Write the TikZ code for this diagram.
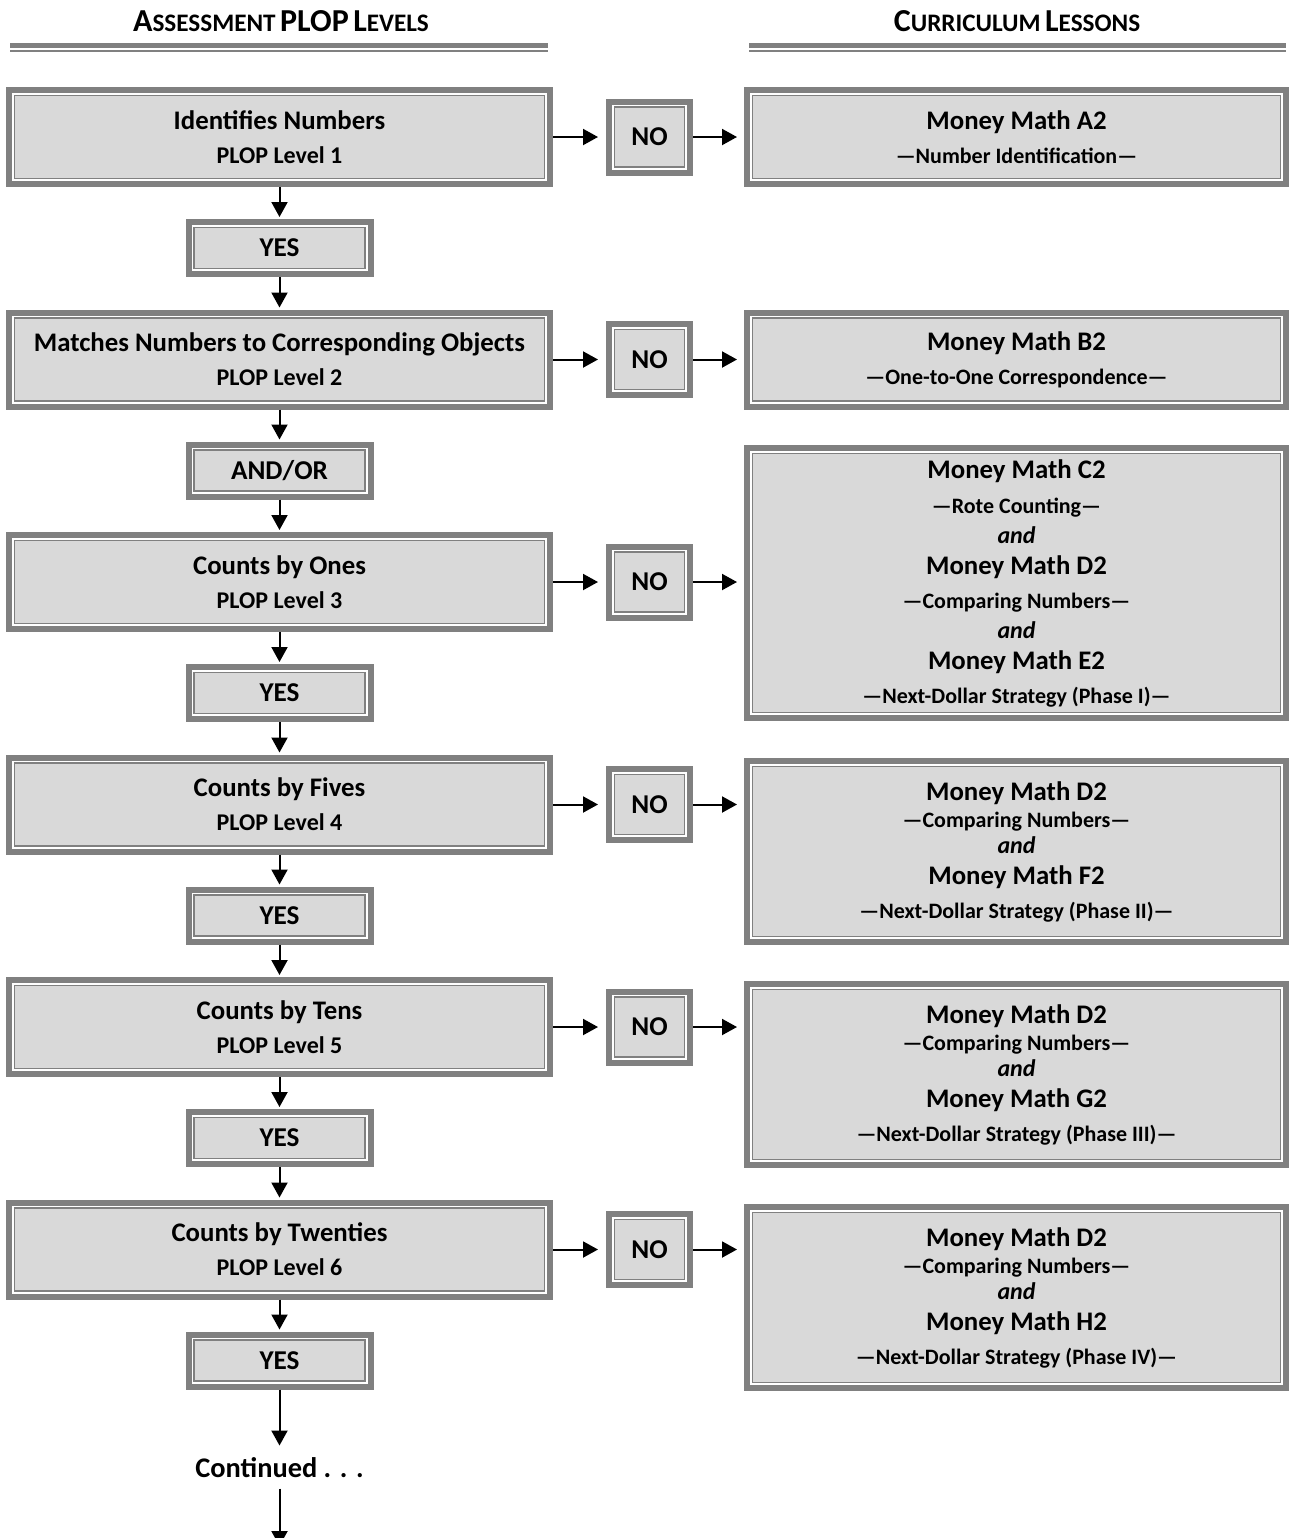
\documentclass[tikz,border=0pt]{standalone}
\usepackage{fontspec}
\setmainfont{Carlito}
\usetikzlibrary{arrows.meta}

\definecolor{edgegray}{HTML}{808080}
\definecolor{panelgray}{HTML}{D9D9D9}

% text sizes used inside the boxes
\newcommand\ltitle[1]{{\fontsize{13.4}{13}\selectfont #1}}
\newcommand\lsub[1]{{\fontsize{11}{13}\selectfont #1}}
\newcommand\plop[1]{{\fontsize{12}{13}\selectfont #1}}
\newcommand\andword{{\fontsize{12}{13}\selectfont\itshape and}}
\newcommand\capsword[2]{{\fontsize{16}{18}\selectfont #1}{\fontsize{12.6}{14}\selectfont #2}}

\tikzset{
  frame/.style 2 args={draw=edgegray, line width=3pt, fill=white,
    outer sep=1.5pt, inner sep=0pt, align=center,
    minimum width=#1, minimum height=#2,
    font=\bfseries\fontsize{13}{13}\selectfont,
    path picture={\draw[edgegray, line width=0.65pt, fill=panelgray]
      ([shift={(2.8pt,-2.8pt)}]path picture bounding box.north west) rectangle
      ([shift={(-2.8pt,2.8pt)}]path picture bounding box.south east);}},
  level/.style={frame={270.5pt}{47pt}},
  answer/.style={frame={91pt}{26pt}, font=\bfseries\fontsize{13.6}{13}\selectfont},
  nobox/.style={frame={40.5pt}{35.5pt}, font=\bfseries\fontsize{13.6}{13}\selectfont},
  lesson/.style={frame={269.5pt}{#1}},
  heading/.style={font=\bfseries, inner sep=0pt},
  flow/.style={draw=black, line width=1pt, -{Triangle[length=7.5pt,width=8pt]}},
}

\begin{document}
\begin{tikzpicture}[x=0.5pt, y=-0.5pt]
\useasboundingbox (0,0) rectangle (1289,1538);

% column headings and their rules
\node[heading] (hleft) at (281,21) {\capsword{A}{SSESSMENT} \capsword{PLOP}{} \capsword{L}{EVELS}};
\node[heading] (hright) at (1017,21) {\capsword{C}{URRICULUM} \capsword{L}{ESSONS}};
\draw[edgegray, line width=2.5pt] (10,45.7) -- (548,45.7);
\draw[edgegray, line width=0.8pt] (10,50.8) -- (548,50.8);
\draw[edgegray, line width=2.5pt] (749,45.7) -- (1286,45.7);
\draw[edgegray, line width=0.8pt] (749,50.8) -- (1286,50.8);

% assessment levels
\node[level] (L1) at (279.5,137)    {\ltitle{Identifies Numbers}\\[4pt]\plop{PLOP Level 1}};
\node[level] (L2) at (279.5,359.5)  {\ltitle{Matches Numbers to Corresponding Objects}\\[4pt]\plop{PLOP Level 2}};
\node[level] (L3) at (279.5,582)    {\ltitle{Counts by Ones}\\[4pt]\plop{PLOP Level 3}};
\node[level] (L4) at (279.5,804.5)  {\ltitle{Counts by Fives}\\[4pt]\plop{PLOP Level 4}};
\node[level] (L5) at (279.5,1027)   {\ltitle{Counts by Tens}\\[4pt]\plop{PLOP Level 5}};
\node[level] (L6) at (279.5,1249.5) {\ltitle{Counts by Twenties}\\[4pt]\plop{PLOP Level 6}};

% answers between the levels
\node[answer] (Y1) at (279.5,248)    {YES};
\node[answer] (Y2) at (279.5,470.5)  {AND/OR};
\node[answer] (Y3) at (279.5,693)    {YES};
\node[answer] (Y4) at (279.5,915.5)  {YES};
\node[answer] (Y5) at (279.5,1138)   {YES};
\node[answer] (Y6) at (279.5,1360.5) {YES};

\node[nobox] (N1) at (649.5,137)    {NO};
\node[nobox] (N2) at (649.5,359.5)  {NO};
\node[nobox] (N3) at (649.5,582)    {NO};
\node[nobox] (N4) at (649.5,804.5)  {NO};
\node[nobox] (N5) at (649.5,1027)   {NO};
\node[nobox] (N6) at (649.5,1249.5) {NO};

% curriculum lessons
\node[lesson=47pt] (R1) at (1016.5,137)
  {\ltitle{Money Math A2}\\[4pt]\lsub{---Number Identification---}};
\node[lesson=47pt] (R2) at (1016.5,359.5)
  {\ltitle{Money Math B2}\\[4pt]\lsub{---One-to-One Correspondence---}};
\node[lesson=135pt] (R3) at (1016.5,583)
  {\ltitle{Money Math C2}\\[4.5pt]\lsub{---Rote Counting---}\\[2pt]\andword\\[2.5pt]
   \ltitle{Money Math D2}\\[4pt]\lsub{---Comparing Numbers---}\\[2pt]\andword\\[2.5pt]
   \ltitle{Money Math E2}\\[4pt]\lsub{---Next-Dollar Strategy (Phase I)---}};
\node[lesson=90.5pt] (R4) at (1016.5,851.5)
  {\ltitle{Money Math D2}\\[0.5pt]\lsub{---Comparing Numbers---}\\[0pt]\andword\\[2.5pt]
   \ltitle{Money Math F2}\\[4pt]\lsub{---Next-Dollar Strategy (Phase II)---}};
\node[lesson=90.5pt] (R5) at (1016.5,1074.5)
  {\ltitle{Money Math D2}\\[0.5pt]\lsub{---Comparing Numbers---}\\[0pt]\andword\\[2.5pt]
   \ltitle{Money Math G2}\\[4pt]\lsub{---Next-Dollar Strategy (Phase III)---}};
\node[lesson=90.5pt] (R6) at (1016.5,1297.5)
  {\ltitle{Money Math D2}\\[0.5pt]\lsub{---Comparing Numbers---}\\[0pt]\andword\\[2.5pt]
   \ltitle{Money Math H2}\\[4pt]\lsub{---Next-Dollar Strategy (Phase IV)---}};

\node[heading, font=\bfseries\fontsize{14.2}{14}\selectfont] (cont) at (279.5,1468) {Continued . . .};
\coordinate (tail) at (279.5,1546);

% vertical flow
\foreach \a/\b in {L1/Y1, Y1/L2, L2/Y2, Y2/L3, L3/Y3, Y3/L4, L4/Y4, Y4/L5, L5/Y5, Y5/L6, L6/Y6}
  \draw[flow, shorten >=1pt] (\a.south) -- (\b.north);
\draw[flow] (Y6.south) -- ([yshift=6pt]cont.north);
\draw[flow] ([yshift=-5pt]cont.south) -- (tail);

% branches to the lessons
\foreach \i in {1,...,6} {
  \draw[flow, shorten >=4pt] (L\i.east) -- (N\i.west);
  \draw[flow, shorten >=3.5pt] (N\i.east) -- (N\i.east -| R\i.west);
}
\end{tikzpicture}
\end{document}
